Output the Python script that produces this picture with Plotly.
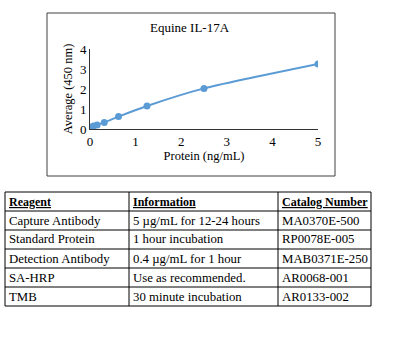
import plotly.graph_objects as go

# Data
protein = [0, 0.039, 0.078, 0.156, 0.3125, 0.625, 1.25, 2.5, 5]
average = [0.07, 0.10, 0.15, 0.20, 0.33, 0.62, 1.15, 2.03, 3.25]
x_ticks = [0, 1, 2, 3, 4, 5]
y_ticks = [0, 1, 2, 3, 4]

headers = ["Reagent", "Information", "Catalog Number"]
reagents = ["Capture Antibody", "Standard Protein", "Detection Antibody", "SA-HRP", "TMB"]
information = ["5 µg/mL for 12-24 hours", "1 hour incubation", "0.4 µg/mL for 1 hour",
               "Use as recommended.", "30 minute incubation"]
catalog = ["MA0370E-500", "RP0078E-005", "MAB0371E-250", "AR0068-001", "AR0133-002"]

W, H = 398, 356
FONT = "Liberation Serif, Times New Roman, serif"

def px(x):
    return x / W

def py(y):
    return (H - y) / H

fig = go.Figure()
fig.add_trace(go.Scatter(
    x=protein, y=average, mode="lines+markers",
    line=dict(color="#5B9BD5", width=2, shape="spline", smoothing=0.6),
    marker=dict(color="#5B9BD5", size=7),
    showlegend=False, hoverinfo="x+y",
))

fig.update_layout(
    width=W, height=H, margin=dict(l=0, r=0, t=0, b=0, autoexpand=False),
    paper_bgcolor="white", plot_bgcolor="white",
    font=dict(family=FONT, size=13, color="black"),
    xaxis=dict(domain=[px(90), px(318)], range=[0, 5], tickvals=x_ticks,
               showgrid=False, zeroline=False, showline=True, linecolor="#333",
               linewidth=1, ticks="", tickfont=dict(size=13, family=FONT),
               automargin=False,
               title=dict(text="Protein (ng/mL)", font=dict(size=12.5, family=FONT), standoff=2),
               fixedrange=True),
    yaxis=dict(domain=[py(129), py(49)], range=[0, 4], tickvals=y_ticks,
               showgrid=False, zeroline=False, showline=True, linecolor="#333",
               linewidth=1, ticks="", tickfont=dict(size=13, family=FONT),
               automargin=False,
               title=dict(text="Average (450 nm)", font=dict(size=12.5, family=FONT), standoff=4),
               fixedrange=True),
)

shapes = []
annotations = []
# Chart frame
shapes.append(dict(type="rect", xref="paper", yref="paper",
                   x0=px(47), x1=px(335), y0=py(176), y1=py(13),
                   line=dict(color="#404040", width=1)))
annotations.append(dict(text="Equine IL-17A", xref="paper", yref="paper",
                        x=px(190), y=py(28), showarrow=False,
                        font=dict(size=13, family=FONT), xanchor="center", yanchor="middle"))

# Table grid
row_y = [192, 211, 230, 249, 268, 287, 306]
col_x = [5, 129, 278, 371]
for yv in row_y:
    shapes.append(dict(type="line", xref="paper", yref="paper",
                       x0=px(col_x[0]), x1=px(col_x[-1]), y0=py(yv), y1=py(yv),
                       line=dict(color="black", width=1)))
for xv in col_x:
    shapes.append(dict(type="line", xref="paper", yref="paper",
                       x0=px(xv), x1=px(xv), y0=py(row_y[0]), y1=py(row_y[-1]),
                       line=dict(color="black", width=1)))

rows = [["<b><u>%s</u></b>" % h for h in headers]] + [list(r) for r in zip(reagents, information, catalog)]
for i, row in enumerate(rows):
    yc = (row_y[i] + row_y[i + 1]) / 2
    size = 12 if i == 0 else 12.8
    for j, txt in enumerate(row):
        annotations.append(dict(text=txt, xref="paper", yref="paper",
                                x=px(col_x[j] + 2), y=py(yc), showarrow=False,
                                xanchor="left", yanchor="middle",
                                font=dict(size=size, family=FONT, color="black")))

fig.update_layout(shapes=shapes, annotations=annotations)
fig.write_html("out.html", config={"displayModeBar": False},
               post_script="document.body.style.margin='0';document.body.style.overflow='hidden';")
